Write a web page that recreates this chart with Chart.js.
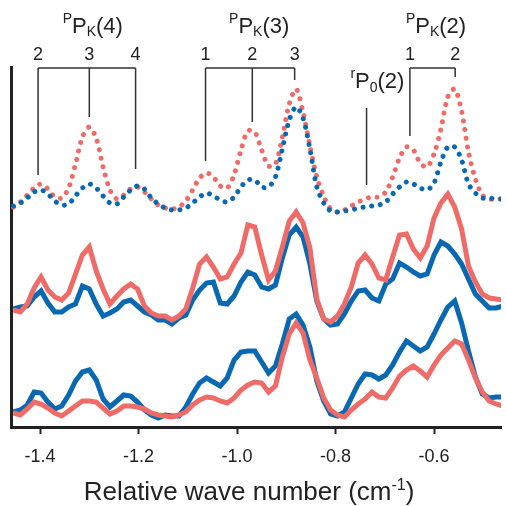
<!DOCTYPE html>
<html lang="en">
<head>
<meta charset="UTF-8">
<title>Relative wave number spectra</title>
<script src="https://cdn.jsdelivr.net/npm/chart.js"></script>
<style>
  html, body { margin: 0; padding: 0; background: #fff; }
  canvas { display: block; }
</style>
</head>
<body>
<canvas id="spectra" width="506" height="506"></canvas>
<script>
// relative wave number (cm-1) of every sample
const wavenumber = [
  -1.454, -1.440, -1.426, -1.412, -1.398, -1.384, -1.370, -1.356, -1.342, -1.328,
  -1.314, -1.300, -1.286, -1.272, -1.258, -1.244, -1.230, -1.216, -1.202, -1.188,
  -1.174, -1.160, -1.146, -1.132, -1.118, -1.104, -1.090, -1.076, -1.062, -1.048,
  -1.034, -1.020, -1.006, -0.992, -0.978, -0.964, -0.950, -0.936, -0.922, -0.908,
  -0.894, -0.880, -0.866, -0.852, -0.838, -0.824, -0.810, -0.796, -0.782, -0.768,
  -0.754, -0.740, -0.726, -0.712, -0.698, -0.684, -0.670, -0.656, -0.642, -0.628,
  -0.614, -0.600, -0.586, -0.572, -0.558, -0.544, -0.530, -0.516, -0.502, -0.488,
  -0.474, -0.460
];

// intensities (arb. units, traces offset vertically)
const topRed = [
  220, 225, 232, 239, 243, 238, 230, 229, 239, 263,
  290, 300, 289, 260, 237, 228, 232, 238, 240, 235,
  228, 222, 219, 218, 220, 226, 237, 249, 254, 250,
  241, 239, 252, 277, 296, 295, 277, 261, 263, 290,
  323, 338, 315, 281, 250, 231, 218, 215, 217, 221,
  225, 228, 230, 230, 235, 250, 269, 280, 277, 264,
  260, 273, 298, 330, 338, 316, 275, 248, 232, 228,
  228, 228
];
const topBlue = [
  221, 224, 229, 235, 237, 233, 226, 222, 223, 231,
  239, 243, 239, 231, 224, 223, 230, 237, 241, 238,
  229, 223, 219, 217, 217, 219, 224, 230, 234, 231,
  227, 225, 230, 240, 247, 247, 240, 240, 250, 278,
  307, 320, 309, 278, 240, 224, 216, 215, 216, 217,
  219, 220, 221, 222, 225, 233, 240, 245, 243, 239,
  237, 244, 265, 280, 280, 267, 243, 234, 229, 229,
  228, 228
];
const midRed = [
  117, 115, 123, 139, 150, 137, 130, 127, 134, 153,
  172, 180, 156, 138, 123, 131, 138, 143, 138, 121,
  114, 111, 111, 107, 111, 118, 139, 163, 170, 160,
  148, 150, 163, 174, 202, 200, 172, 147, 156, 180,
  206, 215, 204, 179, 128, 108, 105, 111, 123, 140,
  164, 172, 163, 149, 147, 170, 192, 193, 178, 169,
  181, 209, 224, 233, 220, 198, 161, 145, 133, 129,
  128, 127
];
const midBlue = [
  118, 120, 121, 130, 136, 124, 115, 115, 120, 123,
  141, 138, 123, 111, 114, 118, 125, 127, 121, 115,
  112, 107, 107, 103, 109, 112, 127, 137, 144, 145,
  124, 123, 131, 145, 155, 152, 140, 138, 142, 169,
  192, 200, 190, 163, 126, 108, 102, 103, 113, 126,
  136, 137, 129, 126, 143, 148, 164, 160, 155, 151,
  153, 172, 185, 181, 173, 163, 148, 133, 126, 119,
  119, 121
];
const botBlue = [
  15, 17, 22, 35, 34, 25, 18, 21, 32, 46,
  55, 57, 47, 28, 20, 26, 32, 31, 25, 17,
  12, 9, 12, 11, 11, 20, 33, 44, 49, 45,
  41, 49, 67, 75, 76, 76, 65, 54, 61, 83,
  108, 113, 102, 80, 46, 26, 13, 11, 15, 29,
  43, 53, 52, 48, 52, 62, 75, 86, 81, 76,
  80, 93, 107, 120, 126, 104, 76, 50, 33, 29,
  30, 30
];
const botRed = [
  14, 12, 18, 25, 23, 19, 14, 11, 16, 21,
  26, 26, 25, 19, 13, 16, 21, 21, 20, 18,
  14, 12, 11, 10, 12, 15, 22, 27, 30, 29,
  26, 24, 29, 37, 42, 45, 44, 35, 41, 70,
  93, 104, 94, 67, 49, 29, 17, 12, 10, 17,
  23, 28, 35, 30, 29, 39, 51, 57, 61, 56,
  50, 62, 72, 79, 86, 83, 67, 49, 35, 26,
  23, 21
];

const tickValues = [-1.4, -1.2, -1.0, -0.8, -0.6];

// line assignments: position, K label, and how low each marker reaches
const pk4Lines = [-1.404, -1.300, -1.206];
const pk4Keys = ['2', '3', '4'];
const pk4Ends = [252, 310, 258];
const pk3Lines = [-1.064, -0.969, -0.883];
const pk3Keys = ['1', '2', '3'];
const pk3Ends = [266, 305, 347];
const pk2Lines = [-0.649, -0.557];
const pk2Keys = ['1', '2'];
const pk2Ends = [291, 350];
const groupCenters = [-1.293, -0.955, -0.596];
const groupJ = ['(4)', '(3)', '(2)'];
const rp0Line = -0.737;
const rp0Span = [319, 242];
const rp0Center = -0.715;

const BLUE = '#0868b2';
const RED = '#ef6b67';
const INK = '#222';
const FONT = "'Liberation Sans', Arial, Helvetica, sans-serif";

const pts = ys => ys.map((y, i) => ({ x: wavenumber[i], y: y }));

function solid(data, color) {
  return { data: pts(data), borderColor: color, borderWidth: 5, pointRadius: 0, tension: 0, fill: false };
}
function dotted(data, color) {
  return {
    data: pts(data), borderColor: color, borderWidth: 5, pointRadius: 0, tension: 0.3, fill: false,
    borderDash: [0.01, 8.7], borderCapStyle: 'round'
  };
}

// draws a run of text pieces (with sub/superscripts) centred on cx
function richText(ctx, parts, cx, baseline) {
  let total = 0;
  parts.forEach(p => {
    ctx.font = p.size + 'px ' + FONT;
    p.w = ctx.measureText(p.t).width;
    total += p.w;
  });
  let x = cx - total / 2;
  ctx.textAlign = 'left';
  ctx.textBaseline = 'alphabetic';
  parts.forEach(p => {
    ctx.font = p.size + 'px ' + FONT;
    ctx.fillText(p.t, x, baseline + (p.dy || 0));
    x += p.w;
  });
}

const groups = [
  { lines: pk4Lines, keys: pk4Keys, ends: pk4Ends },
  { lines: pk3Lines, keys: pk3Keys, ends: pk3Ends },
  { lines: pk2Lines, keys: pk2Keys, ends: pk2Ends }
];

const annotations = {
  id: 'annotations',
  beforeDatasetsDraw(chart) {
    const { ctx, chartArea, scales: { x, y } } = chart;
    const top = chartArea.top + 1;
    ctx.save();
    ctx.strokeStyle = '#333';
    ctx.fillStyle = INK;
    ctx.lineWidth = 1.5;

    groups.forEach((g, gi) => {
      const xs = g.lines.map(v => x.getPixelForValue(v));
      ctx.beginPath();
      ctx.moveTo(xs[0], top);
      ctx.lineTo(xs[xs.length - 1], top);
      xs.forEach((px, i) => {
        ctx.moveTo(px, top);
        ctx.lineTo(px, y.getPixelForValue(g.ends[i]));
      });
      ctx.stroke();

      xs.forEach((px, i) => {
        richText(ctx, [{ t: g.keys[i], size: 18 }], px, chartArea.top - 7);
      });
      richText(ctx, [
        { t: 'P', size: 14, dy: -10 },
        { t: 'P', size: 22 },
        { t: 'K', size: 14, dy: 3 },
        { t: groupJ[gi], size: 22 }
      ], x.getPixelForValue(groupCenters[gi]), chartArea.top - 34);
    });

    const rx = x.getPixelForValue(rp0Line);
    ctx.beginPath();
    ctx.moveTo(rx, y.getPixelForValue(rp0Span[0]));
    ctx.lineTo(rx, y.getPixelForValue(rp0Span[1]));
    ctx.stroke();
    richText(ctx, [
      { t: 'r', size: 14, dy: -10 },
      { t: 'P', size: 22 },
      { t: '0', size: 14, dy: 4 },
      { t: '(2)', size: 22 }
    ], x.getPixelForValue(rp0Center), chartArea.top + 21);

    // axis title
    richText(ctx, [
      { t: 'Relative wave number (cm', size: 26 },
      { t: '-1', size: 16, dy: -10 },
      { t: ')', size: 26 }
    ], 249, 500);
    ctx.restore();
  }
};

new Chart(document.getElementById('spectra'), {
  type: 'line',
  data: {
    datasets: [
      solid(midRed, RED),
      solid(botRed, RED),
      dotted(topBlue, BLUE),
      dotted(topRed, RED),
      solid(midBlue, BLUE),
      solid(botBlue, BLUE)
    ]
  },
  options: {
    responsive: false,
    animation: false,
    layout: { padding: { left: 0, top: 67, right: 5, bottom: 0 } },
    plugins: { legend: { display: false }, tooltip: { enabled: false } },
    scales: {
      x: {
        type: 'linear',
        min: -1.459,
        max: -0.464,
        afterBuildTicks: s => { s.ticks = tickValues.map(v => ({ value: v })); },
        afterFit: s => { s.height = 79; },
        ticks: {
          callback: v => v.toFixed(1),
          font: { size: 18, family: FONT },
          color: INK,
          padding: 12,
          maxRotation: 0
        },
        grid: { display: true, drawOnChartArea: false, drawTicks: true, tickLength: 7, tickWidth: 2, tickColor: INK },
        border: { display: true, color: INK, width: 3 }
      },
      y: {
        min: 0,
        max: 360,
        afterFit: s => { s.width = 11; },
        ticks: { display: false },
        grid: { display: false, drawTicks: false },
        border: { display: true, color: INK, width: 3 }
      }
    }
  },
  plugins: [annotations]
});
</script>
</body>
</html>
